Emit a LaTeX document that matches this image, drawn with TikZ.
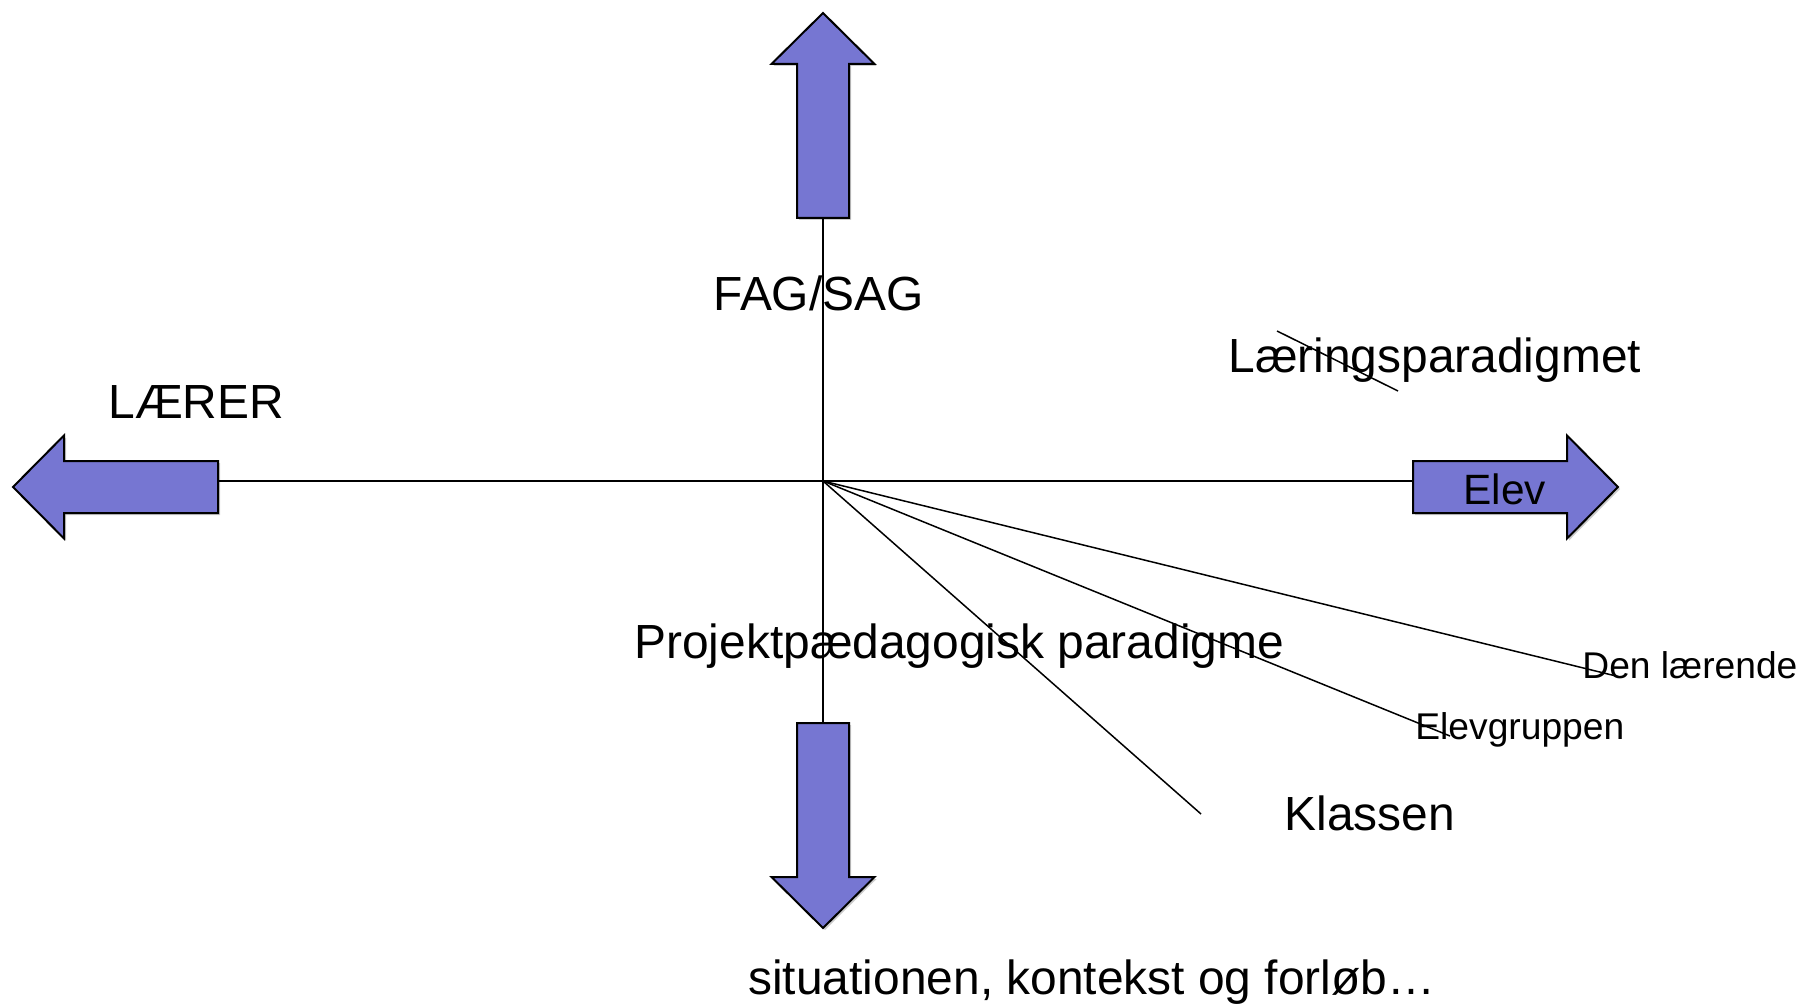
\documentclass[tikz,border=0pt]{standalone}
\usepackage{fontspec}
\setmainfont{Liberation Sans}
\definecolor{arrowblue}{RGB}{118,118,210}

\tikzset{
  pics/blockarrow/.style={code={
    \fill[black, opacity=0.2, transform canvas={shift={(1pt,-1pt)}}]
      (0,-26) -- (154,-26) -- (154,-51.5) -- (205,0) -- (154,51.5) -- (154,26) -- (0,26) -- cycle;
    \draw[line width=1pt, fill=arrowblue, line join=miter]
      (0,-26) -- (154,-26) -- (154,-51.5) -- (205,0) -- (154,51.5) -- (154,26) -- (0,26) -- cycle;
    \coordinate (-tail) at (0,0);
  }}
}

\begin{document}
\begin{tikzpicture}[x=0.5pt,y=-0.5pt,
  axis/.style={line width=0.75pt},
  bigtext/.style={anchor=base west, inner sep=0pt, font=\fontsize{23.95}{28}\selectfont},
  smalltext/.style={anchor=base west, inner sep=0pt, font=\fontsize{18.6}{22}\selectfont}]
	  \useasboundingbox (0,0) rectangle (1802,1005);
	  \coordinate (c) at (823,481);
	  \coordinate (dl) at (1620,677);
	  \coordinate (eg) at (1450,736);
	  \coordinate (kl) at (1201,814);
	  \coordinate (lp1) at (1277,331);
	  \coordinate (lp2) at (1398,391);

	  % arrows
	  \pic (fag) [rotate=90] at (823,218) {blockarrow};
	  \pic (sit) [rotate=-90] at (823,723) {blockarrow};
	  \pic (laerer) [rotate=180] at (218,487) {blockarrow};
	  \pic (elev) at (1413,487) {blockarrow};

	  \draw[axis] (fag-tail) -- (sit-tail);
	  \draw[axis] (c -| laerer-tail) -- (c -| elev-tail);
	  \draw[axis] (c) -- (dl);
	  \draw[axis] (c) -- (eg);
	  \draw[axis] (c) -- (kl);
	  \draw[axis] (lp1) -- (lp2);

	  \node[bigtext] (fagtxt) at (713,311) {FAG/SAG};
	  \node[bigtext] (laerertxt) at (108,418) {LÆRER};
	  \node[bigtext] (laering) at (1228,372) {Læringsparadigmet};
	  \node[bigtext, font=\fontsize{21.2}{25}\selectfont] (elevtxt) at (1463,504) {Elev};
	  \node[bigtext] (projekt) at (634,658) {Projektpædagogisk paradigme};
	  \node[smalltext] (denl) at (1582,678) {Den lærende};
	  \node[smalltext] (elevgr) at (1415,739) {Elevgruppen};
	  \node[bigtext] (klassen) at (1284,830) {Klassen};
	  \node[bigtext] (sittxt) at (748,994) {situationen, kontekst og forløb…};
	\end{tikzpicture}
\end{document}
